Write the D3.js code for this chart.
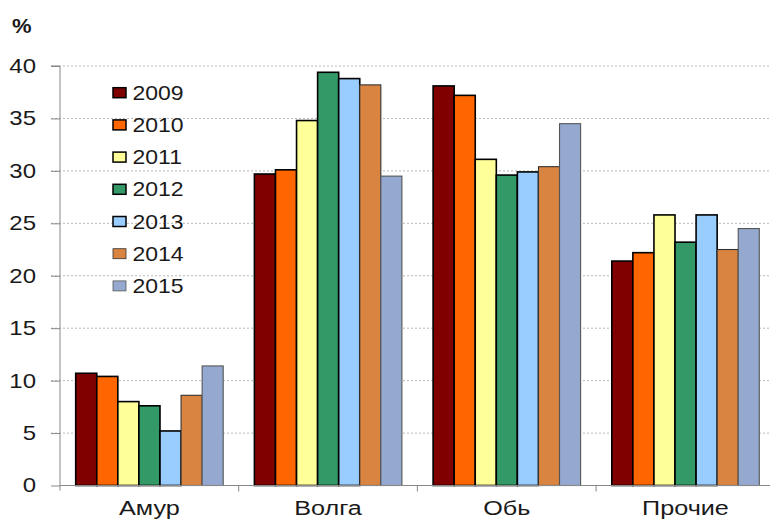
<!DOCTYPE html>
<html>
<head>
<meta charset="utf-8">
<script src="https://cdn.jsdelivr.net/npm/d3@7"></script>
<style>
  html, body { margin: 0; padding: 0; background: #fff; }
  svg { display: block; }
  text { font-family: "Liberation Sans", Arial, sans-serif; fill: #1a1a1a; }
</style>
</head>
<body>
<svg id="chart" width="770" height="523"></svg>
<script>
const categories = ["Амур", "Волга", "Обь", "Прочие"];
const years = ["2009", "2010", "2011", "2012", "2013", "2014", "2015"];
const values2009 = [10.7, 29.7, 38.1, 21.4];
const values2010 = [10.4, 30.1, 37.2, 22.2];
const values2011 = [8.0, 34.8, 31.1, 25.8];
const values2012 = [7.6, 39.4, 29.6, 23.2];
const values2013 = [5.2, 38.8, 29.9, 25.8];
const values2014 = [8.6, 38.2, 30.4, 22.5];
const values2015 = [11.4, 29.5, 34.5, 24.5];
const yTicks = [0, 5, 10, 15, 20, 25, 30, 35, 40];
const yUnit = "%";

const seriesValues = [values2009, values2010, values2011, values2012, values2013, values2014, values2015];
const colors = ["#800000", "#FF6600", "#FFFF99", "#339966", "#99CCFF", "#DA8441", "#95A9D0"];
const strokes = ["#000", "#000", "#000", "#000", "#000", "#333", "#555"];
const strokeW = [1.6, 1.6, 1.6, 1.6, 1.6, 1.1, 1.1];

const svg = d3.select("#chart");
const pLeft = 60, pRight = 774.8, pTop = 66, pBottom = 485.5;
const sx = 1.15; // horizontal text stretch

const x = d3.scaleBand().domain(categories).range([pLeft, pRight]).padding(0);
const bw = x.bandwidth();
const xi = d3.scaleBand().domain(years).range([15.7, bw - 15.5]).padding(0);
const y = d3.scaleLinear().domain([0, 40]).range([pBottom, pTop]);

// gridlines
svg.append("g").selectAll("line").data(yTicks.filter(t => t > 0)).join("line")
  .attr("x1", 51).attr("x2", pRight)
  .attr("y1", d => y(d)).attr("y2", d => y(d))
  .attr("stroke", "#b8b8b8").attr("stroke-width", 1).attr("stroke-dasharray", "2,2");

// y axis via d3 axis
const yAxis = d3.axisLeft(y).tickValues(yTicks).tickSize(9).tickPadding(15).tickFormat(d3.format("d"));
const gy = svg.append("g").attr("transform", `translate(${pLeft},0)`).call(yAxis);
gy.select(".domain").attr("stroke", "#888").attr("d", `M-9,${pTop}H0V${pBottom + 5}`);
gy.selectAll(".tick line").attr("stroke", "#888");
gy.selectAll(".tick text")
  .attr("font-size", 20).attr("fill", "#1a1a1a")
  .attr("font-family", "Liberation Sans, Arial, sans-serif")
  .attr("transform", function() {
    const xx = +d3.select(this).attr("x");
    return `translate(${xx},0) scale(1.2,1) translate(${-xx},0)`;
  });

// bars
const groups = svg.append("g").selectAll("g").data(categories).join("g")
  .attr("transform", d => `translate(${x(d)},0)`);
groups.each(function(cat, ci) {
  d3.select(this).selectAll("rect").data(years).join("rect")
    .attr("x", yr => xi(yr))
    .attr("width", xi.bandwidth())
    .attr("y", (yr, i) => y(seriesValues[i][ci]))
    .attr("height", (yr, i) => y(0) - y(seriesValues[i][ci]))
    .attr("fill", (yr, i) => colors[i])
    .attr("stroke", (yr, i) => strokes[i])
    .attr("stroke-width", (yr, i) => strokeW[i]);
});

// x axis
const xAxis = d3.axisBottom(x).tickSize(0).tickPadding(0);
const gx = svg.append("g").attr("transform", `translate(0,${pBottom})`).call(xAxis);
gx.select(".domain").attr("stroke", "#888").attr("d", `M${pLeft},0H${pRight}`);
gx.selectAll(".tick text").remove();
// category separators
svg.append("g").selectAll("line").data(categories).join("line")
  .attr("x1", (d, i) => pLeft + bw * (i + 1)).attr("x2", (d, i) => pLeft + bw * (i + 1))
  .attr("y1", pBottom).attr("y2", pBottom + 6)
  .attr("stroke", "#888");
// category labels
svg.append("g").selectAll("text").data(categories).join("text")
  .attr("transform", d => `translate(${x(d) + bw / 2},515) scale(1.2,1)`)
  .attr("text-anchor", "middle").attr("font-size", 21)
  .text(d => d);

// unit
svg.append("text").attr("transform", "translate(12,33) scale(1.1,1)")
  .attr("font-size", 20).attr("font-weight", "bold").text(yUnit);

// legend
const lg = svg.append("g").attr("transform", "translate(113,0)");
years.forEach((yr, i) => {
  const cy = 92.7 + i * 32.2;
  lg.append("rect").attr("x", 0).attr("y", cy - 5).attr("width", 13).attr("height", 10)
    .attr("fill", colors[i]).attr("stroke", strokes[i]).attr("stroke-width", i < 5 ? 1.5 : 0.8);
  lg.append("text").attr("transform", `translate(19.5,${cy + 7}) scale(${sx},1)`)
    .attr("font-size", 20).text(yr);
});
</script>
</body>
</html>
